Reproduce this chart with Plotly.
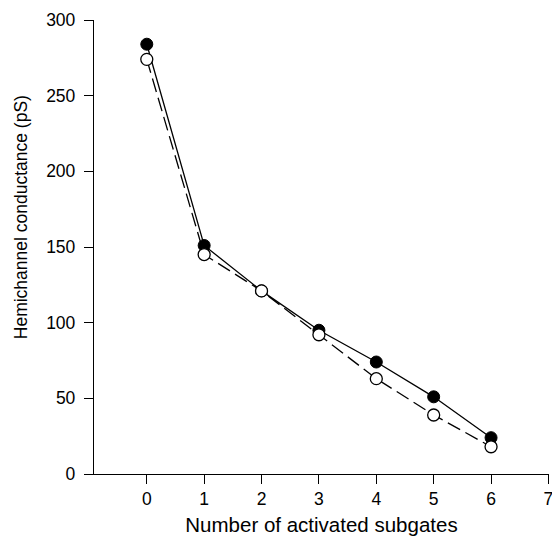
import plotly.graph_objects as go

subgates = [0, 1, 2, 3, 4, 5, 6]
filled_pS = [284, 151, 121, 95, 74, 51, 24]
open_pS = [274, 145, 121, 92, 63, 39, 18]

fig = go.Figure()
fig.add_trace(go.Scatter(
    x=subgates, y=filled_pS, mode="lines+markers",
    line=dict(color="black", width=1.3),
    marker=dict(symbol="circle", size=12, color="black", line=dict(color="black", width=1)),
    showlegend=False))
fig.add_trace(go.Scatter(
    x=subgates, y=open_pS, mode="lines+markers",
    line=dict(color="black", width=1.3, dash="14px,6px"),
    marker=dict(symbol="circle", size=12, color="white", line=dict(color="black", width=1.3)),
    showlegend=False))

font = dict(family="Liberation Sans, Arial, sans-serif", color="black")
fig.update_layout(
    width=552, height=537,
    margin=dict(l=94, r=3, t=20, b=63, pad=0),
    paper_bgcolor="white", plot_bgcolor="white",
    font=dict(size=18, **font),
    xaxis=dict(range=[-0.92, 7.01], tickvals=[0, 1, 2, 3, 4, 5, 6, 7],
               showgrid=False, zeroline=False, showline=True, linecolor="black", linewidth=1.3,
               ticks="outside", ticklen=9, tickwidth=1.3, tickcolor="black",
               ticklabeloverflow="allow", tickfont=dict(size=17.5), automargin=False,
               title=dict(text="Number of activated subgates", font=dict(size=20.5), standoff=9)),
    yaxis=dict(range=[0, 300], tickvals=[0, 50, 100, 150, 200, 250, 300],
               showgrid=False, zeroline=False, showline=True, linecolor="black", linewidth=1.3,
               ticks="outside", ticklen=9, tickwidth=1.3, tickcolor="black", automargin=False,
               tickfont=dict(size=17.5), ticklabelstandoff=5),
    annotations=[dict(text="Hemichannel conductance (pS)", textangle=-90,
                      xref="paper", yref="paper", x=-0.16, y=0.566,
                      xanchor="center", yanchor="middle", showarrow=False,
                      font=dict(size=17.5, **font))],
)
fig.write_html("out.html")
